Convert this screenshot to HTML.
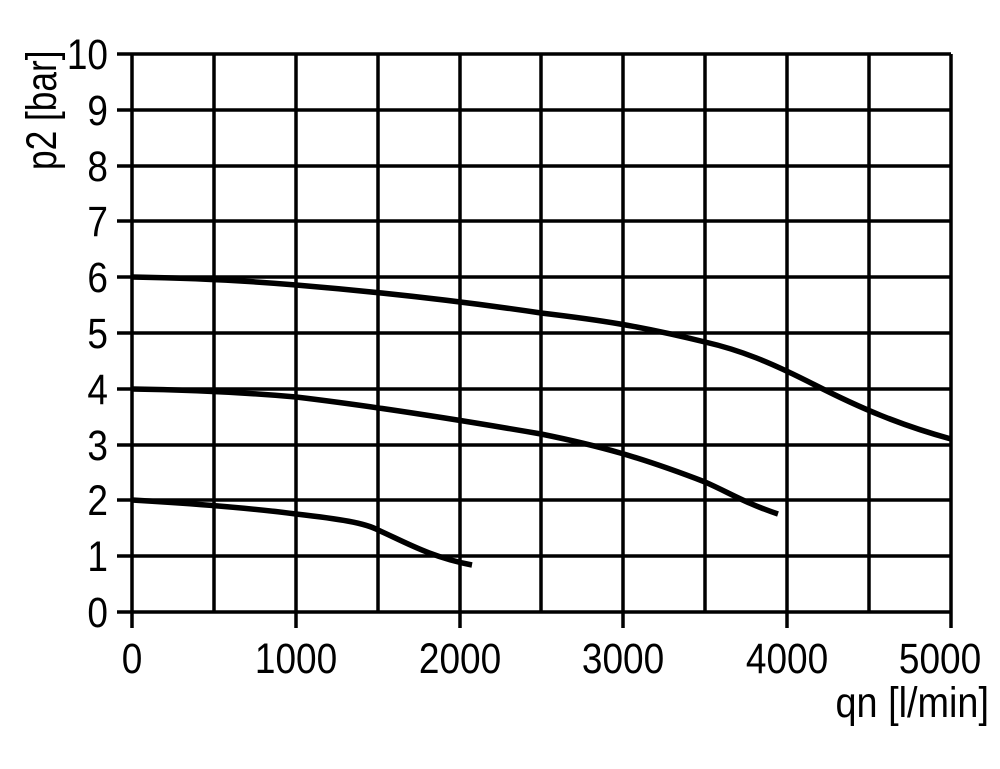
<!DOCTYPE html><html><head><style>body{margin:0;background:#fff}svg text{font-family:"Liberation Sans",sans-serif;fill:#000;font-size:43px}</style></head><body>
<svg width="1000" height="764" viewBox="0 0 1000 764" xmlns="http://www.w3.org/2000/svg">
<g stroke="#000" stroke-width="3.5" fill="none">
<path d="M132 54V628M214 54V612M296 54V612M378 54V612M460 54V612M541 54V612M623 54V612M705 54V612M787 54V612M869 54V612M951 54V628M296 612V628M460 612V628M623 612V628M787 612V628"/>
<path d="M117 54H951M117 110H951M117 166H951M117 221H951M117 277H951M117 333H951M117 389H951M117 445H951M117 500H951M117 556H951M117 612H951"/>
</g>
<g stroke="#000" stroke-width="5.5" fill="none">
<path d="M132 277 C190 278 250 281 296 285 C380 292 460 301 541 313 C600 320 640 326 705 342 C740 350 770 362 815 385 C860 408 900 425 951 439"/>
<path d="M132 389 C200 390 250 393 296 397 C380 407 460 420 541 434 C600 446 640 457 705 482 C730 493 745 503 778 514"/>
<path d="M132 500 C200 504 250 508 296 514 C340 519 365 523 378 530 C405 542 430 557 472 565"/>
</g>
<g text-anchor="end">
<text transform="translate(108,69) scale(0.86,1)">10</text>
<text transform="translate(108,125) scale(0.86,1)">9</text>
<text transform="translate(108,181) scale(0.86,1)">8</text>
<text transform="translate(108,236) scale(0.86,1)">7</text>
<text transform="translate(108,292) scale(0.86,1)">6</text>
<text transform="translate(108,348) scale(0.86,1)">5</text>
<text transform="translate(108,404) scale(0.86,1)">4</text>
<text transform="translate(108,460) scale(0.86,1)">3</text>
<text transform="translate(108,515) scale(0.86,1)">2</text>
<text transform="translate(108,571) scale(0.86,1)">1</text>
<text transform="translate(108,627) scale(0.86,1)">0</text>
</g>
<g text-anchor="middle">
<text transform="translate(132,673) scale(0.86,1)">0</text>
<text transform="translate(296,673) scale(0.86,1)">1000</text>
<text transform="translate(460,673) scale(0.86,1)">2000</text>
<text transform="translate(623,673) scale(0.86,1)">3000</text>
<text transform="translate(787,673) scale(0.86,1)">4000</text>
<text transform="translate(940,673) scale(0.86,1)">5000</text>
</g>
<text text-anchor="end" transform="translate(989,717) scale(0.88,1)">qn [l/min]</text>
<text transform="translate(56,170) rotate(-90) scale(0.82,1)">p2 [bar]</text>
</svg></body></html>
